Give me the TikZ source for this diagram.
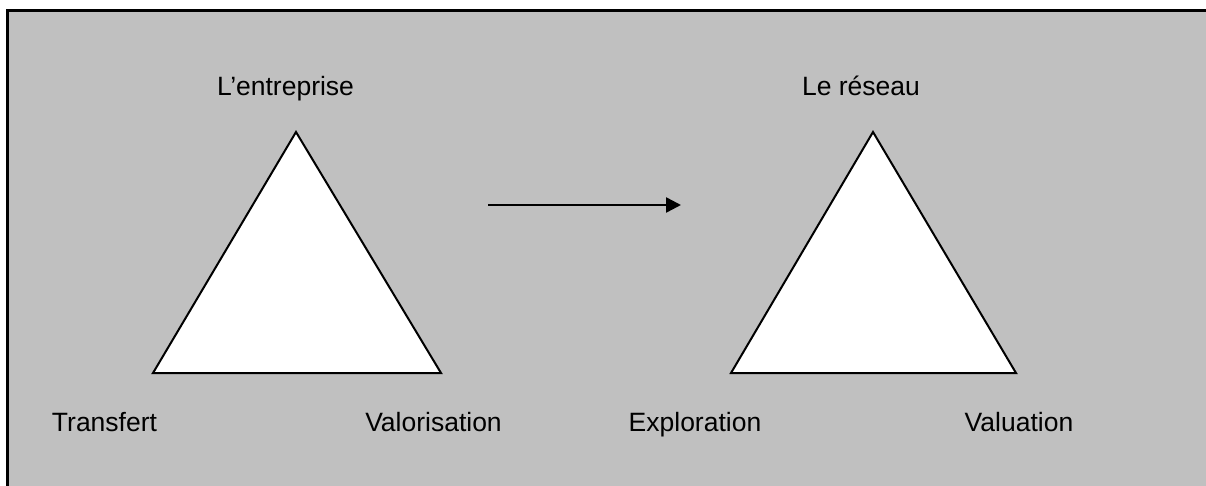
\documentclass[tikz,border=0pt]{standalone}
\usepackage{fontspec}
\setmainfont{Liberation Sans}
\usetikzlibrary{arrows.meta}
\tikzset{
    lbl/.style={anchor=base,inner sep=0pt,font=\fontsize{26.5}{30}\selectfont},
    tri/.style={draw=black,fill=white,line width=2pt,line join=miter},
}

\begin{document}
\begin{tikzpicture}[x=1pt,y=-1pt]
		\useasboundingbox (0,0) rectangle (1206,486);
		\clip (0,0) rectangle (1206,486);
		\draw[line width=3pt,fill={rgb,255:red,192;green,192;blue,192}] (7,11) rectangle (1230,510);
		% first triangle
		\draw[tri] (296,132) -- (441,373) -- (153,373) -- cycle;
		% second triangle
		\draw[tri] (873,132) -- (1016,373) -- (731,373) -- cycle;
		\coordinate (from) at (488,205);
		\coordinate (to) at (681,205);
		\draw[line width=2.5pt,-{Triangle[length=15pt,width=15pt]}] (from) -- (to);
		\node[lbl] (entreprise) at (285.5,96) {L’entreprise};
		\node[lbl] (reseau) at (861,96) {Le réseau};
		\node[lbl] (transfert) at (104.5,431) {Transfert};
		\node[lbl] (valorisation) at (433.5,431) {Valorisation};
		\node[lbl] (exploration) at (695,431) {Exploration};
		\node[lbl] (valuation) at (1019,431) {Valuation};
	\end{tikzpicture}
\end{document}
